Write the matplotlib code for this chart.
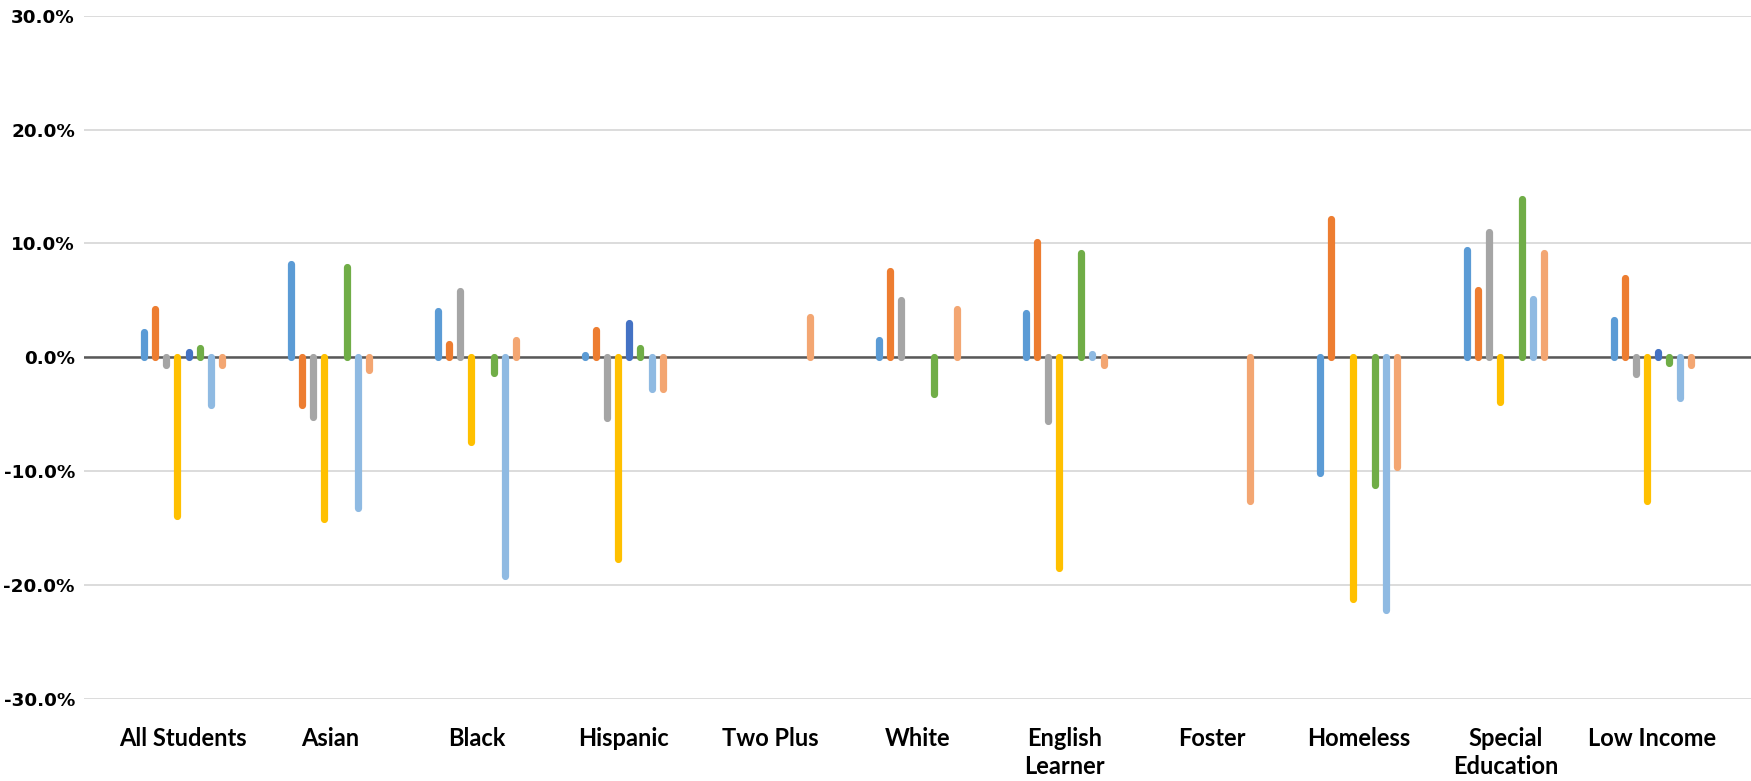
import numpy as np
import matplotlib.pyplot as plt
from matplotlib.ticker import FuncFormatter

# categories along the x axis
categories = ["All Students", "Asian", "Black", "Hispanic", "Two Plus", "White",
              "English\nLearner", "Foster", "Homeless", "Special\nEducation", "Low Income"]

# eight series (percent change), None where no bar is drawn
s1 = [2.2, 8.2, 4.1, 0.2, None, 1.5, 3.9, None, -10.2, 9.4, 3.3]
s2 = [4.2, -4.2, 1.2, 2.4, None, 7.6, 10.1, None, 12.1, 5.9, 7.0]
s3 = [-0.7, -5.2, 5.8, -5.3, None, 5.0, -5.6, None, None, 11.0, -1.5]
s4 = [-13.9, -14.2, -7.4, -17.7, None, None, -18.5, None, -21.2, -3.9, -12.6]
s5 = [0.5, None, None, 3.0, None, None, None, None, None, None, 0.5]
s6 = [0.8, 7.9, -1.4, 0.8, None, -3.2, 9.2, None, -11.2, 13.9, -0.5]
s7 = [-4.2, -13.2, -19.2, -2.8, None, None, 0.3, None, -22.2, 5.1, -3.6]
s8 = [-0.7, -1.1, 1.5, -2.8, 3.5, 4.2, -0.7, -12.6, -9.6, 9.2, -0.7]

series = [s1, s2, s3, s4, s5, s6, s7, s8]
colors = ["#5B9BD5", "#ED7D31", "#A5A5A5", "#FFC000",
          "#4472C4", "#70AD47", "#8FBAE2", "#F3A672"]

fig = plt.figure(figsize=(17.51, 7.81), dpi=100)
ax = fig.add_axes([84 / 1751, 1 - 699 / 781, 1 - 84 / 1751, (699 - 15.6) / 781])

x = np.arange(len(categories))
step = 0.0755
for k, (vals, c) in enumerate(zip(series, colors)):
    xs = [xi + (k - 3.5) * step for xi, v in zip(x, vals) if v is not None]
    ys = [v / 100 for v in vals if v is not None]
    ax.vlines(xs, 0, ys, colors=c, linewidth=5.2, capstyle="round", zorder=3)

ax.set_ylim(-0.30, 0.30)
ax.set_yticks(np.arange(-0.30, 0.301, 0.10))
ax.yaxis.set_major_formatter(FuncFormatter(lambda v, p: f"{v * 100:.1f}%"))
ax.set_xlim(-(183 - 84) / 146.95, 10 + (1751 - 1652.5) / 146.95)
ax.set_xticks(x)
ax.set_xticklabels(categories, fontfamily="Lato", fontweight="bold",
                   fontsize=17, linespacing=1.3)
for lab in ax.get_yticklabels():
    lab.set_fontfamily("DejaVu Sans")
    lab.set_fontweight("bold")
    lab.set_fontsize(13.2)

ax.grid(axis="y", color="#D9D9D9", linewidth=1.3, zorder=0)
ax.axhline(0, color="#595959", linewidth=1.8, zorder=2)
ax.tick_params(axis="both", length=0)
ax.tick_params(axis="y", pad=6.5)
ax.tick_params(axis="x", pad=20)
for sp in ax.spines.values():
    sp.set_visible(False)

fig.savefig("out.png", dpi=100)
